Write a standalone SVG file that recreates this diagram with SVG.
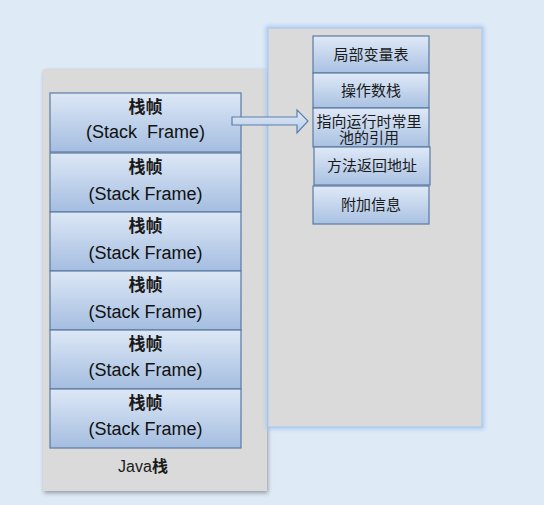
<svg xmlns="http://www.w3.org/2000/svg" width="544" height="505" viewBox="0 0 544 505">
<style>
.frame{stroke:#5d7ba3;stroke-width:1.2;fill:url(#fg)}
.cell{stroke:#5d7ba3;stroke-width:1.2;fill:url(#cg)}
.t{font-family:"Liberation Sans","Noto Sans CJK SC",sans-serif;fill:#1a1a1a;text-anchor:middle}
.zh{font-size:17px;font-weight:bold}
.en{font-size:18px;white-space:pre;fill:#111}
.c{font-size:15px}
.jv{font-size:16px}
</style>
<defs>
<linearGradient id="fg" x1="0" y1="0" x2="0" y2="1">
<stop offset="0" stop-color="#dde8f6"/>
<stop offset="1" stop-color="#a4bde0"/>
</linearGradient>
<linearGradient id="cg" x1="0" y1="0" x2="0" y2="1">
<stop offset="0" stop-color="#dfe9f7"/>
<stop offset="1" stop-color="#a9c1e2"/>
</linearGradient>
<linearGradient id="ag" x1="0" y1="0" x2="0" y2="1">
<stop offset="0" stop-color="#e4edf8"/>
<stop offset="1" stop-color="#b4c9e6"/>
</linearGradient>
<filter id="sh" x="-10%" y="-10%" width="120%" height="120%">
<feGaussianBlur in="SourceAlpha" stdDeviation="2"/>
<feOffset dx="1" dy="2" result="b"/>
<feComponentTransfer><feFuncA type="linear" slope="0.35"/></feComponentTransfer>
<feMerge><feMergeNode/><feMergeNode in="SourceGraphic"/></feMerge>
</filter>
<filter id="glow" x="-10%" y="-10%" width="120%" height="120%">
<feGaussianBlur stdDeviation="2"/>
</filter>
</defs>
<rect x="0" y="0" width="544" height="505" fill="#dfeaf7"/>
<g id="java-stack">
<rect x="43" y="69" width="224" height="422" fill="#dadada" filter="url(#sh)"/>
<text class="t jv" x="143" y="472">Java<tspan font-weight="bold">栈</tspan></text>
</g>
<g id="frame-panel">
<rect x="268" y="28" width="214" height="399" fill="none" stroke="#a3c8f2" stroke-width="4" filter="url(#glow)"/>
<rect x="268" y="28" width="214" height="399" fill="#dadada" stroke="#a8c8ef" stroke-width="1"/>
</g>
<g id="frame1"><rect class="frame" x="50" y="93" width="191" height="59"/><text class="t zh" x="145.5" y="113">栈帧</text><text class="t en" x="145.5" y="138">(Stack  Frame)</text></g>
<g id="frame2"><rect class="frame" x="50" y="153" width="191" height="59"/><text class="t zh" x="145.5" y="173">栈帧</text><text class="t en" x="145.5" y="200">(Stack Frame)</text></g>
<g id="frame3"><rect class="frame" x="50" y="212" width="191" height="59"/><text class="t zh" x="145.5" y="232">栈帧</text><text class="t en" x="145.5" y="259">(Stack Frame)</text></g>
<g id="frame4"><rect class="frame" x="50" y="271" width="191" height="59"/><text class="t zh" x="145.5" y="291">栈帧</text><text class="t en" x="145.5" y="318">(Stack Frame)</text></g>
<g id="frame5"><rect class="frame" x="50" y="330" width="191" height="59"/><text class="t zh" x="145.5" y="350">栈帧</text><text class="t en" x="145.5" y="376">(Stack Frame)</text></g>
<g id="frame6"><rect class="frame" x="50" y="389" width="191" height="59"/><text class="t zh" x="145.5" y="409">栈帧</text><text class="t en" x="145.5" y="435">(Stack Frame)</text></g>
<g id="cell1"><rect class="cell" x="313" y="36" width="116" height="37"/><text class="t c" x="371" y="60">局部变量表</text></g>
<g id="cell2"><rect class="cell" x="313" y="73" width="116" height="35"/><text class="t c" x="371" y="96">操作数栈</text></g>
<g id="cell3"><rect class="cell" x="313" y="108" width="116" height="39"/><text class="t c" x="369" y="127">指向运行时常里</text><text class="t c" x="369" y="143">池的引用</text></g>
<g id="cell4"><rect class="cell" x="314" y="147" width="116" height="38"/><text class="t c" x="372" y="171">方法返回地址</text></g>
<g id="cell5"><rect class="cell" x="313" y="186" width="116" height="38"/><text class="t c" x="371" y="210">附加信息</text></g>
<g id="connectors">
<path d="M232 117 H297 V110 L308 121 L297 133 V125 H232 Z" fill="url(#ag)" stroke="#5d7fae" stroke-width="1.2"/>
</g>
</svg>
